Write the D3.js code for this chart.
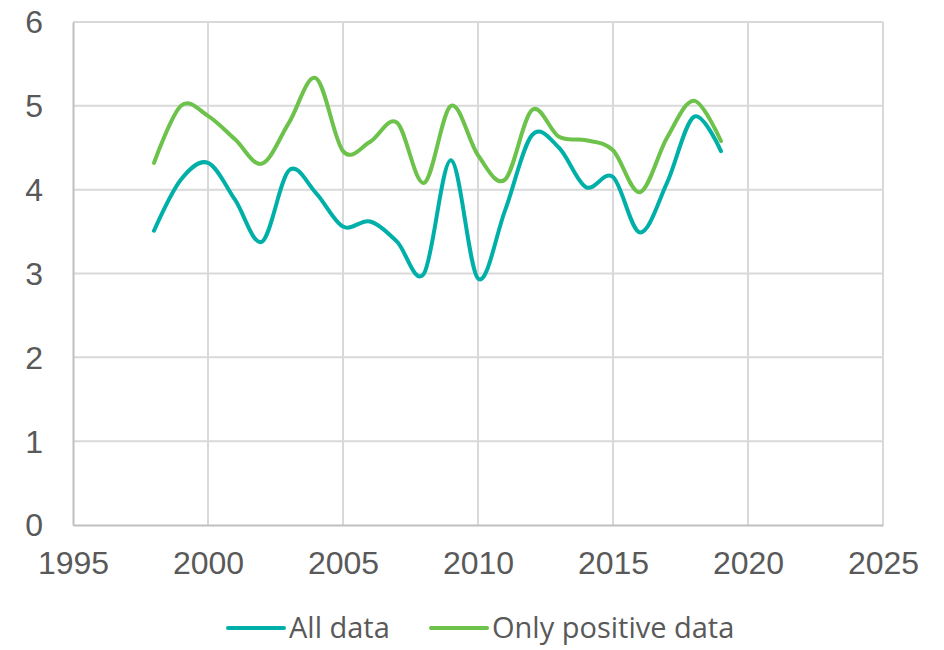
<!DOCTYPE html>
<html>
<head>
<meta charset="utf-8">
<script src="https://cdn.jsdelivr.net/npm/d3@7"></script>
<style>
  body { margin: 0; background: #fff; }
  svg text { fill: #595959; }
</style>
</head>
<body>
<div id="chart"></div>
<script>
// chart data
var years = [1998, 1999, 2000, 2001, 2002, 2003, 2004, 2005, 2006, 2007, 2008,
             2009, 2010, 2011, 2012, 2013, 2014, 2015, 2016, 2017, 2018, 2019];
var allData = [3.51, 4.12, 4.32, 3.88, 3.38, 4.23, 3.96, 3.56, 3.62, 3.38, 3.0,
               4.35, 2.94, 3.75, 4.65, 4.5, 4.03, 4.15, 3.49, 4.08, 4.87, 4.46];
var positiveData = [4.32, 5.0, 4.88, 4.6, 4.31, 4.8, 5.33, 4.46, 4.57, 4.8, 4.08,
                    5.0, 4.41, 4.12, 4.95, 4.63, 4.59, 4.47, 3.97, 4.62, 5.06, 4.58];
var seriesNames = ["All data", "Only positive data"];
var seriesColors = ["#00B0A8", "#6CC24A"];
var xTicks = [1995, 2000, 2005, 2010, 2015, 2020, 2025];
var yTicks = [0, 1, 2, 3, 4, 5, 6];

function drawChart(placement, w, h) {
    var margins = {top: 22, right: 61, bottom: 125, left: 73};
    var width = w - margins.left - margins.right, height = h - margins.top - margins.bottom;

    var svg = d3.select(placement).append("svg")
        .attr("width", w).attr("height", h);
    var g = svg.append("g")
        .attr("transform", "translate(" + margins.left + "," + margins.top + ")");

    var x = d3.scaleLinear().domain([1995, 2025]).range([0, width]);
    var y = d3.scaleLinear().domain([0, 6]).range([height, 0]);

    // grid
    g.append("g").selectAll("line.h")
        .data(yTicks.slice(1)).enter().append("line")
        .attr("x1", 0).attr("x2", width)
        .attr("y1", function(d) { return y(d); }).attr("y2", function(d) { return y(d); })
        .attr("stroke", "#d9d9d9").attr("stroke-width", 2);
    g.append("g").selectAll("line.v")
        .data(xTicks.slice(1)).enter().append("line")
        .attr("y1", 0).attr("y2", height)
        .attr("x1", function(d) { return x(d); }).attr("x2", function(d) { return x(d); })
        .attr("stroke", "#d9d9d9").attr("stroke-width", 2);

    // axes
    var xAxis = g.append("g")
        .attr("transform", "translate(0," + height + ")")
        .call(d3.axisBottom(x).tickValues(xTicks).tickFormat(d3.format("d")).tickSize(0).tickPadding(26));
    var yAxis = g.append("g")
        .call(d3.axisLeft(y).tickValues(yTicks).tickFormat(d3.format("d")).tickSize(0).tickPadding(30));
    [xAxis, yAxis].forEach(function(a) {
        a.select(".domain").attr("stroke", "#bfbfbf").attr("stroke-width", 2);
        a.selectAll("text")
            .attr("font-family", "'Liberation Sans', Arial, sans-serif")
            .attr("font-size", "32px")
            .attr("fill", "#595959");
    });
    yAxis.selectAll("text").attr("dy", "0.34em");
    xAxis.selectAll("text").attr("dy", "0.71em");

    // lines
    var series = [allData, positiveData];
    var line = d3.line()
        .x(function(d, i) { return x(years[i]); })
        .y(function(d) { return y(d); })
        .curve(d3.curveCardinal.tension(0));

    series.forEach(function(s, i) {
        g.append("path")
            .datum(s)
            .attr("fill", "none")
            .attr("stroke", seriesColors[i])
            .attr("stroke-width", 4)
            .attr("stroke-linecap", "round")
            .attr("d", line);
    });

    // legend
    var legendX = [228, 431];
    var legend = svg.selectAll(".legend")
        .data(seriesNames).enter().append("g")
        .attr("class", "legend")
        .attr("transform", function(d, i) { return "translate(" + legendX[i] + ",628)"; });
    legend.append("line")
        .attr("x1", 0).attr("x2", 56)
        .attr("stroke", function(d, i) { return seriesColors[i]; })
        .attr("stroke-width", 4)
        .attr("stroke-linecap", "round");
    legend.append("text")
        .attr("x", 61)
        .attr("dy", "0.35em")
        .attr("font-family", "'Open Sans', Lato, sans-serif")
        .attr("font-size", "29px")
        .text(function(d) { return d; });
}

drawChart("#chart", 944, 650);
</script>
</body>
</html>
